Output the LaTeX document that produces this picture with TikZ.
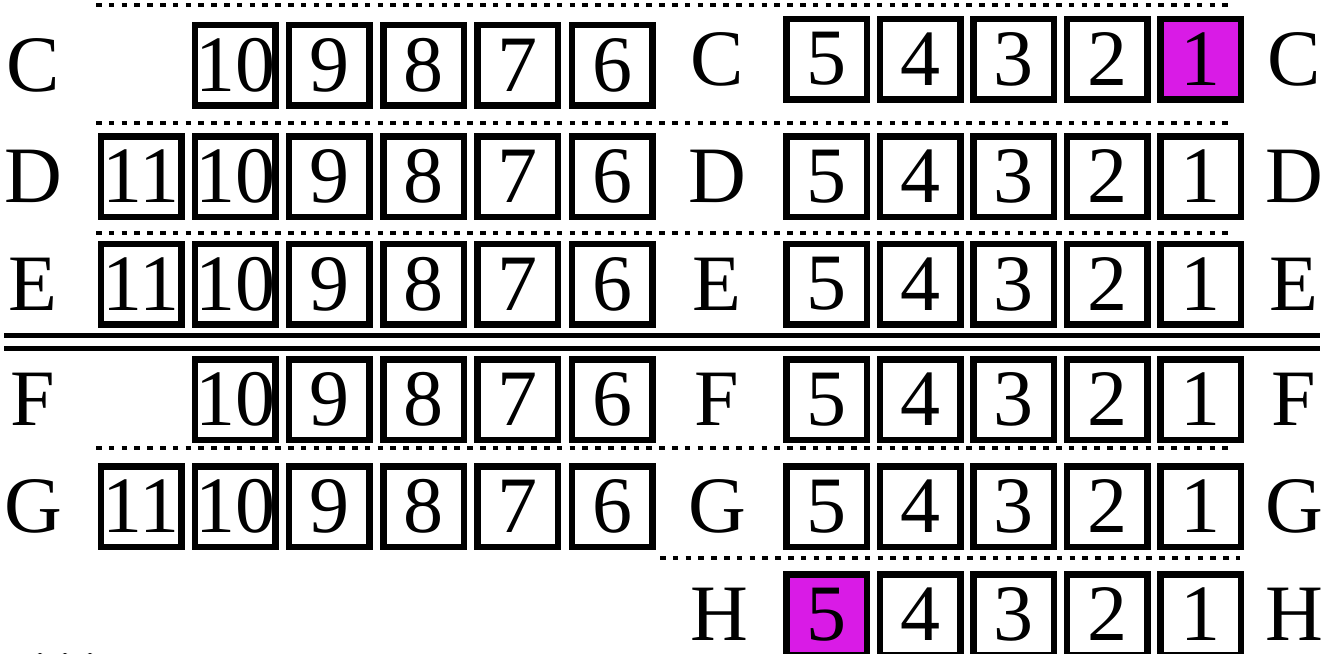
\documentclass[tikz,border=0pt]{standalone}
\usepackage{fontspec}
\setmainfont{Liberation Serif}
\usetikzlibrary{positioning}
\definecolor{ink}{RGB}{0,0,0}
\definecolor{hot}{RGB}{217,27,230}
\tikzset{
  cell/.style={draw=ink,line width=6.5pt,minimum width=80.5pt,minimum height=80.5pt,
    inner sep=0pt,outer sep=0pt,font=\fontsize{80}{80}\selectfont},
  lbl/.style={inner sep=0pt,font=\fontsize{80}{80}\selectfont},
  hl C1/.style={fill=hot},
  hl H5/.style={fill=hot},
  sep/.style={ink,line width=4.5pt,dash pattern=on 5.5pt off 7.3pt},
  rail/.style={ink,line width=5.5pt},
}

\begin{document}
\begin{tikzpicture}[x=1pt,y=-1pt]
\useasboundingbox (0,0) rectangle (1329,653);
% rows: name / y left / y right / first box
\foreach \row/\yl/\yr/\first in {C/65/59/10,D/176.5/176.5/11,E/284/284/11,F/399.5/399.5/10,G/506.5/506.5/11}{
  \node[lbl] (\row-l) at (33,\yl) {\row};
  \node[lbl] (\row-m) at (717,\yr) {\row};
  \node[lbl] (\row-r) at (1294,\yr) {\row};
  \foreach \n in {\first,...,6}
    \node[cell] (\row\n) at ({141+94.2*(11-\n)},\yl) {\n};
  \foreach \n in {5,...,1}
    \node[cell,hl \row\n/.try] (\row\n) at ({826.5+93.5*(5-\n)},\yr) {\n};
}
\node[lbl] (H-m) at (719,614.5) {H};
\node[lbl] (H-r) at (1294,614.5) {H};
\foreach \n in {5,...,1}
  \node[cell,hl H\n/.try] (H\n) at ({826.5+93.5*(5-\n)},614.5) {\n};
% separators
\foreach \y in {5,123,233,448}
  \draw[sep] (96,\y) -- (1228,\y);
\draw[sep] (660,558) -- (1240,558);
\draw[rail] (4,335.5) -- (1320,335.5);
\draw[rail] (4,348.5) -- (1320,348.5);
\foreach \x in {40,65,90}
  \fill[ink] (\x,657) circle (4);
\end{tikzpicture}
\end{document}
